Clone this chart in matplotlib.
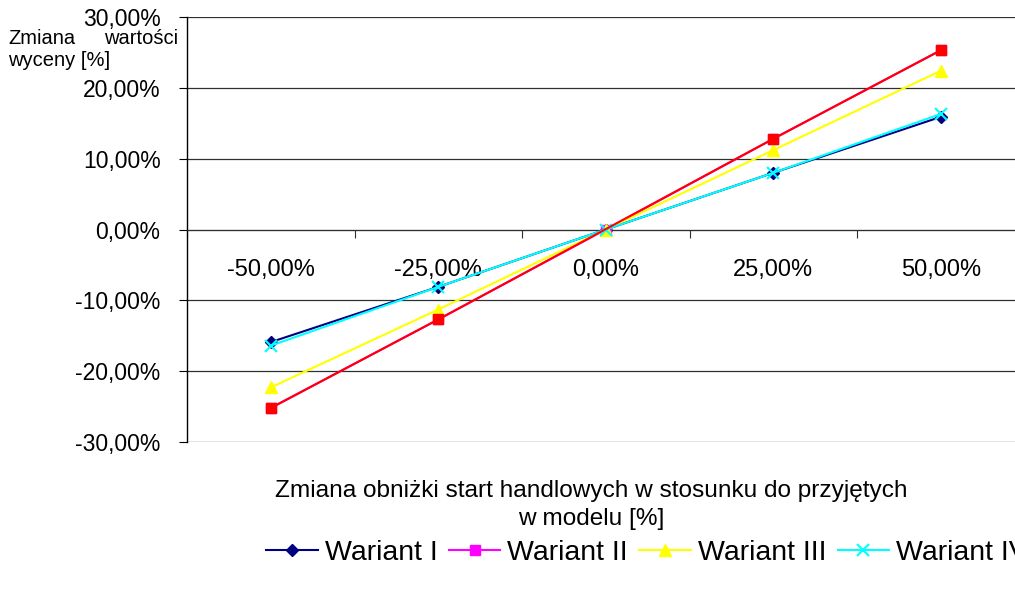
import numpy as np
import matplotlib.pyplot as plt

plt.rcParams['font.family'] = ['Liberation Sans', 'DejaVu Sans']

# data (percent)
kategorie = ['-50,00%', '-25,00%', '0,00%', '25,00%', '50,00%']
wariant_1 = [-15.9, -8.1, 0.0, 8.0, 15.9]
wariant_2 = [-25.2, -12.7, 0.0, 12.8, 25.3]
wariant_3 = [-22.3, -11.3, 0.0, 11.2, 22.4]
wariant_4 = [-16.4, -8.1, 0.0, 8.0, 16.3]
wariant_5 = [-25.2, -12.7, np.nan, 12.8, 25.3]
y_ticks = [-30, -20, -10, 0, 10, 20, 30]

W, H = 1015, 593
fig = plt.figure(figsize=(W / 100, H / 100), dpi=100)
ax = fig.add_axes([187 / W, 1 - 442 / H, (1024.5 - 187) / W, (442 - 17) / H])

x = np.arange(len(kategorie)) + 0.5

ax.plot(x, wariant_1, color='#000080', marker='D', markersize=6, lw=1.5, label='Wariant I', zorder=3)
ax.plot(x, wariant_2, color='#FF00FF', marker='s', markersize=7, lw=1.5, label='Wariant II', zorder=3)
ax.plot(x, wariant_3, color='#FFFF00', marker='^', markersize=9, lw=1.5, label='Wariant III', zorder=3)
ax.plot(x, wariant_4, color='#00FFFF', marker='x', markersize=8, mew=1.5, lw=1.5, label='Wariant IV', zorder=3)
m = ~np.isnan(wariant_5)
ax.plot(x[m], np.array(wariant_5)[m], color='#FF0000', marker='s', markersize=7, lw=1.5, label='Wariant V', zorder=3)

ax.set_xlim(0, 5)
ax.set_ylim(-30, 30)
ax.set_yticks(y_ticks)
ax.set_yticklabels(['%d,00%%' % v for v in y_ticks], fontsize=16.5)
ax.yaxis.grid(True, color='#303030', lw=0.9)
ax.set_axisbelow(True)

ax.spines['top'].set_visible(False)
ax.spines['right'].set_visible(False)
ax.spines['bottom'].set_position(('data', 0))
ax.spines['bottom'].set_color('#303030')
ax.spines['left'].set_lw(1.0)

ax.set_xticks(np.arange(0, 6))
ax.set_xticklabels([])
ax.tick_params(axis='x', which='major', direction='out', length=6, color='#303030')
ax.set_xticks(x, minor=True)
ax.set_xticklabels(kategorie, minor=True, fontsize=17)
ax.tick_params(axis='x', which='minor', length=0, pad=21)
ax.tick_params(axis='y', direction='out', length=6, pad=13)

# y axis title, justified over two lines like the original
fig.text(8 / W, 1 - 38 / H, 'Zmiana', fontsize=14.5, va='center', ha='left')
fig.text(178 / W, 1 - 38 / H, 'wartości', fontsize=14.5, va='center', ha='right')
fig.text(8 / W, 1 - 60 / H, 'wyceny [%]', fontsize=14.5, va='center', ha='left')

fig.text(591 / W, 1 - 505 / H, 'Zmiana obniżki start handlowych w stosunku do przyjętych\nw modelu [%]',
         fontsize=17.6, ha='center', va='center', multialignment='center', linespacing=1.4)

fig.legend(loc='center left', bbox_to_anchor=(255 / W, 1 - 553 / H), ncol=5, frameon=False,
           fontsize=20.5, handlelength=1.8, handletextpad=0.25, columnspacing=0.4, borderaxespad=0)

fig.savefig('out.png', dpi=100)
